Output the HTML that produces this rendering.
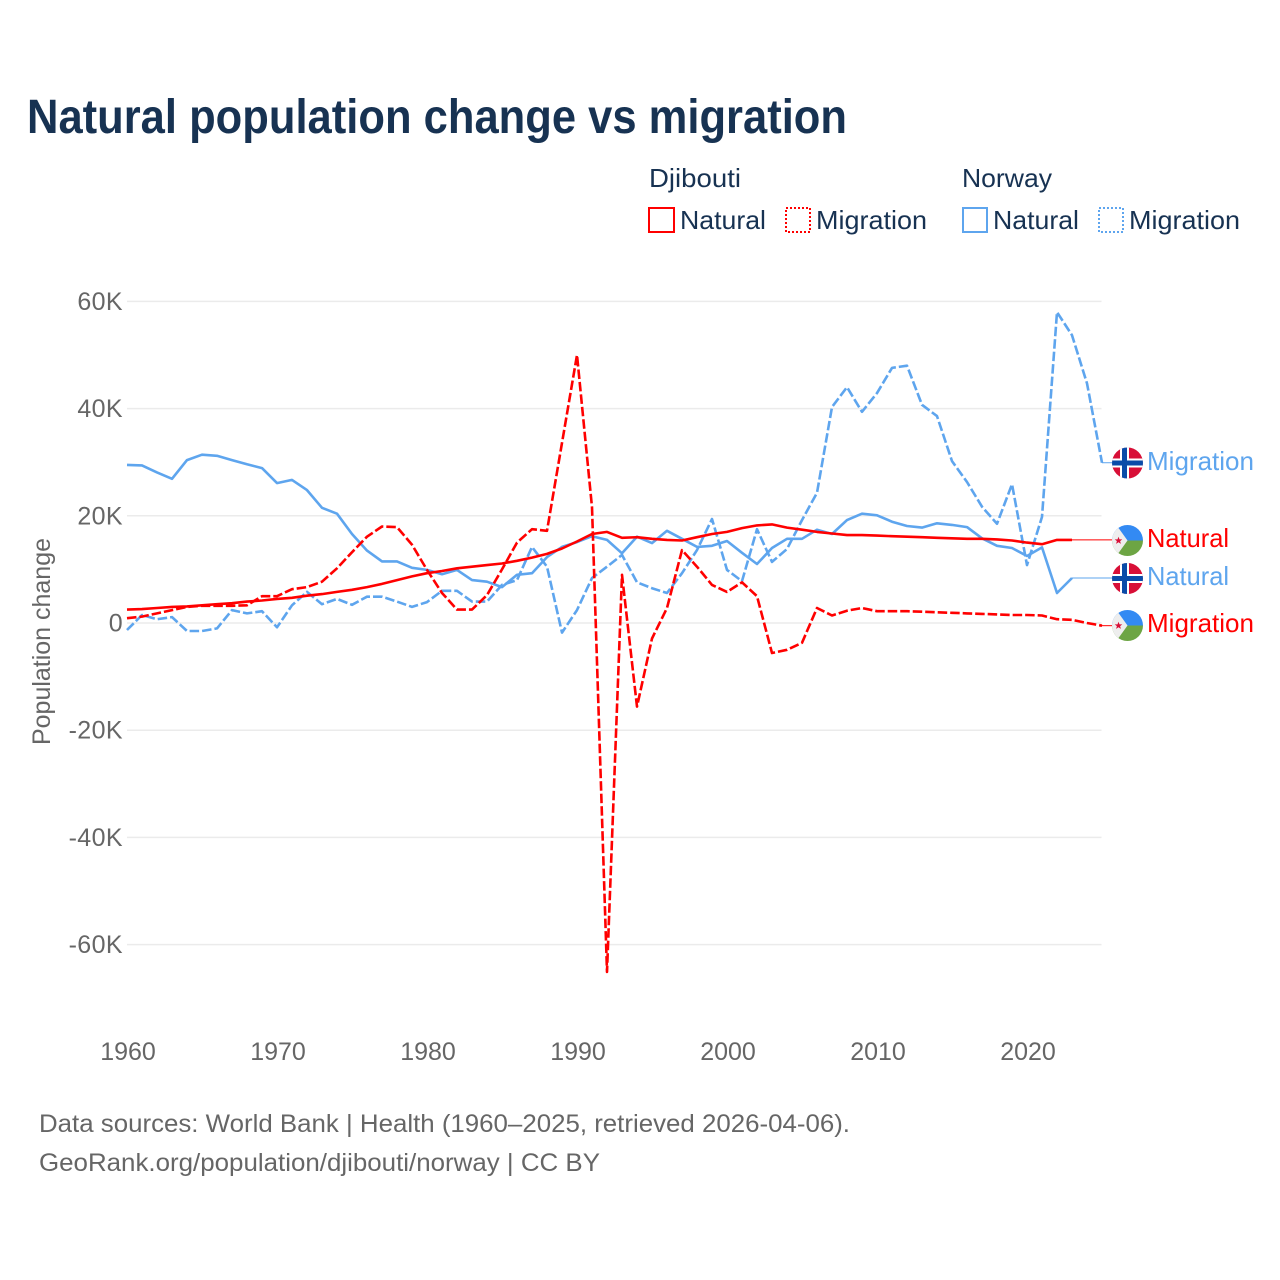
<!DOCTYPE html>
<html lang="en">
<head>
<meta charset="utf-8">
<title>Natural population change vs migration</title>
<style>
html,body{margin:0;padding:0;background:#fff}
svg{display:block}
text{font-family:"Liberation Sans",sans-serif}
</style>
</head>
<body>
<svg id="chart" width="1280" height="1280" viewBox="0 0 1280 1280" xmlns="http://www.w3.org/2000/svg">
  <defs>
    <clipPath id="flag-clip"><circle cx="0" cy="0" r="15.5"/></clipPath>
    <g id="flag-no">
      <g clip-path="url(#flag-clip)">
        <rect x="-16" y="-16" width="32" height="32" fill="#d80f37"/>
        <rect x="-7.500" y="-16" width="9" height="32" fill="#fff"/>
        <rect x="-16" y="-4.500" width="32" height="9" fill="#fff"/>
        <rect x="-5.500" y="-16" width="5" height="32" fill="#0a4ba8"/>
        <rect x="-16" y="-2.500" width="32" height="5" fill="#0a4ba8"/>
      </g>
    </g>
    <g id="flag-dj">
      <g clip-path="url(#flag-clip)">
        <rect x="-16" y="-16" width="32" height="16" fill="#338af3"/>
        <rect x="-16" y="0" width="32" height="16" fill="#6da544"/>
        <polygon points="-11.500,-16 0,0 -11.500,16 -20,16 -20,-16" fill="#eeeeee"/>
        <polygon points="-9,-3.800 -8,-1.100 -5.200,-1.100 -7.400,0.600 -6.600,3.400 -9,1.800 -11.400,3.400 -10.600,0.600 -12.800,-1.100 -10,-1.100" fill="#d80f37"/>
      </g>
    </g>
  </defs>

  <text x="27" y="133" font-size="48" font-weight="700" fill="#173252" textLength="820" lengthAdjust="spacingAndGlyphs">Natural population change vs migration</text>

  <g font-size="26" fill="#173252">
    <text x="649" y="187" textLength="92" lengthAdjust="spacingAndGlyphs">Djibouti</text>
    <text x="962" y="187" textLength="90" lengthAdjust="spacingAndGlyphs">Norway</text>

    <rect x="649" y="208" width="25" height="24" fill="none" stroke="#ff0000" stroke-width="2"/>
    <text x="680" y="229" textLength="86" lengthAdjust="spacingAndGlyphs">Natural</text>
    <rect x="786" y="208" width="24" height="24" fill="none" stroke="#ff0000" stroke-width="2" stroke-dasharray="2 2"/>
    <text x="816" y="229" textLength="111" lengthAdjust="spacingAndGlyphs">Migration</text>

    <rect x="963" y="208" width="24" height="24" fill="none" stroke="#5ea5ee" stroke-width="2"/>
    <text x="993" y="229" textLength="86" lengthAdjust="spacingAndGlyphs">Natural</text>
    <rect x="1099" y="208" width="24" height="24" fill="none" stroke="#5ea5ee" stroke-width="2" stroke-dasharray="2 2"/>
    <text x="1129" y="229" textLength="111" lengthAdjust="spacingAndGlyphs">Migration</text>
  </g>

  <g id="grid"></g>
  <g id="y-ticks"></g>
  <g id="x-ticks"></g>
  <g id="series"></g>

  <text transform="translate(50,745) rotate(-90)" font-size="25" fill="#666666" textLength="207" lengthAdjust="spacingAndGlyphs">Population change</text>

  <g>
    <use href="#flag-no" x="1127.500" y="463"/>
    <text x="1147" y="470" font-size="26" fill="#5ea5ee" textLength="107" lengthAdjust="spacingAndGlyphs">Migration</text>
  </g>
  <g>
    <use href="#flag-dj" x="1127.500" y="540.500"/>
    <text x="1147" y="547" font-size="26" fill="#ff0000" textLength="82" lengthAdjust="spacingAndGlyphs">Natural</text>
  </g>
  <g>
    <use href="#flag-no" x="1127.500" y="578.500"/>
    <text x="1147" y="585" font-size="26" fill="#5ea5ee" textLength="82" lengthAdjust="spacingAndGlyphs">Natural</text>
  </g>
  <g>
    <use href="#flag-dj" x="1127.500" y="625.500"/>
    <text x="1147" y="632" font-size="26" fill="#ff0000" textLength="107" lengthAdjust="spacingAndGlyphs">Migration</text>
  </g>

  <g font-size="25" fill="#666666">
    <text x="39" y="1132" textLength="811" lengthAdjust="spacingAndGlyphs">Data sources: World Bank | Health (1960–2025, retrieved 2026-04-06).</text>
    <text x="39" y="1171" textLength="561" lengthAdjust="spacingAndGlyphs">GeoRank.org/population/djibouti/norway | CC BY</text>
  </g>
</svg>

<script>
const startYear = 1960;
const yTickValues = [60, 40, 20, 0, -20, -40, -60];
const yTickLabels = ["60K", "40K", "20K", "0", "-20K", "-40K", "-60K"];
const xTickValues = [1960, 1970, 1980, 1990, 2000, 2010, 2020];

// Values in thousands, one per year from 1960
const djiboutiNatural = [2.5,2.6,2.8,3.0,3.1,3.3,3.5,3.7,4.0,4.2,4.5,4.7,5.1,5.4,5.8,6.2,6.7,7.3,8.0,8.7,9.3,9.7,10.2,10.5,10.8,11.1,11.6,12.2,12.9,13.9,15.2,16.6,17.0,15.9,16.0,15.7,15.5,15.4,16.0,16.6,17.0,17.7,18.2,18.4,17.8,17.4,17.0,16.7,16.4,16.4,16.3,16.2,16.1,16.0,15.9,15.8,15.7,15.7,15.6,15.4,15.0,14.7,15.5,15.5];
const djiboutiMigration = [0.9,1.2,1.8,2.4,3.0,3.2,3.2,3.2,3.3,5.0,5.0,6.3,6.7,7.7,10.2,13.2,16.1,18.0,17.9,14.6,9.9,5.6,2.5,2.5,5.2,10.0,15.0,17.5,17.2,33.6,50.0,21.6,-65.1,9.0,-15.6,-2.9,2.8,13.6,10.5,7.1,5.8,7.6,5.0,-5.6,-5.0,-3.7,2.8,1.4,2.3,2.8,2.2,2.2,2.2,2.1,2.0,1.9,1.8,1.7,1.6,1.5,1.5,1.4,0.7,0.6,0.0,-0.5];
const norwayNatural = [29.5,29.4,28.1,26.9,30.4,31.4,31.2,30.4,29.6,28.9,26.1,26.7,24.8,21.5,20.4,16.6,13.5,11.5,11.5,10.3,9.9,9.1,9.9,8.0,7.7,6.7,9.0,9.3,12.3,14.2,15.1,16.2,15.5,13.0,16.1,14.9,17.2,15.7,14.2,14.4,15.3,13.1,11.0,14.0,15.7,15.7,17.4,16.6,19.2,20.4,20.1,18.9,18.1,17.8,18.6,18.3,17.9,15.8,14.4,14.0,12.5,14.1,5.6,8.4];
const norwayMigration = [-1.3,1.5,0.7,1.1,-1.5,-1.5,-1.0,2.4,1.8,2.2,-0.8,3.3,5.8,3.5,4.5,3.4,4.9,4.9,4.0,3.0,3.9,6.0,6.0,4.0,4.0,7.1,8.0,14.2,10.5,-1.8,2.4,8.4,10.5,12.7,7.6,6.5,5.6,9.3,13.6,19.4,9.9,7.8,17.5,11.4,13.8,19.2,24.3,40.3,44.0,39.4,42.9,47.6,48.0,40.7,38.6,30.2,26.3,21.7,18.5,25.9,10.8,19.8,58.0,53.7,44.7,29.9];

const svgNS = "http://www.w3.org/2000/svg";
function xScale(year) { return 127 + (year - 1960) * 15; }
function yScale(k) { return 623 - k * 5.36; }

const gridGroup = document.getElementById("grid");
const yGroup = document.getElementById("y-ticks");
yTickValues.forEach(function (v, i) {
  const line = document.createElementNS(svgNS, "line");
  
  
  line.setAttribute("x1", xScale(1960));
  line.setAttribute("x2", xScale(2025) - 0.5);
  line.setAttribute("y1", yScale(v));
  line.setAttribute("y2", yScale(v));
  line.setAttribute("stroke", "#ebebeb");
  line.setAttribute("stroke-width", 1.5);
  gridGroup.appendChild(line);

  const t = document.createElementNS(svgNS, "text");
  
  
  t.setAttribute("x", 123);
  t.setAttribute("y", yScale(v) + 8.5);
  t.setAttribute("text-anchor", "end");
  t.setAttribute("font-size", 25);
  t.setAttribute("letter-spacing", "0.4");
  t.setAttribute("fill", "#666666");
  t.textContent = yTickLabels[i];
  yGroup.appendChild(t);
});

const xGroup = document.getElementById("x-ticks");
xTickValues.forEach(function (year) {
  const t = document.createElementNS(svgNS, "text");
  
  
  t.setAttribute("x", xScale(year) + 1);
  t.setAttribute("y", 1060);
  t.setAttribute("text-anchor", "middle");
  t.setAttribute("font-size", 25);
  t.setAttribute("fill", "#666666");
  t.textContent = String(year);
  xGroup.appendChild(t);
});

const seriesGroup = document.getElementById("series");
function pointsOf(values) {
  return values.map(function (v, i) {
    return xScale(startYear + i).toFixed(1) + "," + yScale(v).toFixed(1);
  }).join(" ");
}
function addLeader(values, color) {
  const last = values[values.length - 1];
  const lastYear = startYear + values.length - 1;
  const leader = document.createElementNS(svgNS, "line");
  
  
  leader.setAttribute("x1", xScale(lastYear));
  leader.setAttribute("x2", 1113);
  leader.setAttribute("y1", yScale(last));
  leader.setAttribute("y2", yScale(last));
  leader.setAttribute("stroke", color);
  leader.setAttribute("stroke-width", 1);
  seriesGroup.appendChild(leader);
}
function addLine(values, color, dashed) {
  const p = document.createElementNS(svgNS, "polyline");
  
  
  p.setAttribute("points", pointsOf(values));
  p.setAttribute("fill", "none");
  p.setAttribute("stroke", color);
  p.setAttribute("stroke-width", 2.6);
  p.setAttribute("stroke-linejoin", "round");
  if (dashed) { p.setAttribute("stroke-dasharray", "9.5 3"); }
  seriesGroup.appendChild(p);
}

const blue = "#5ea5ee";
const red = "#ff0000";
addLeader(norwayMigration, blue);
addLeader(norwayNatural, blue);
addLeader(djiboutiMigration, red);
addLeader(djiboutiNatural, red);
addLine(norwayNatural, blue, false);
addLine(norwayMigration, blue, true);
addLine(djiboutiMigration, red, true);
addLine(djiboutiNatural, red, false);
</script>
</body>
</html>
